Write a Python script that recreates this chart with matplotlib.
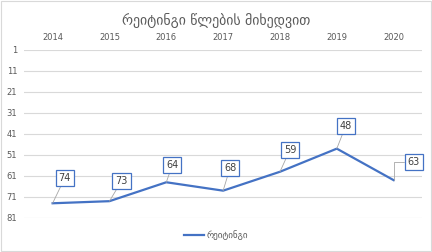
import matplotlib.pyplot as plt
from matplotlib.patches import Rectangle

years = ['2014', '2015', '2016', '2017', '2018', '2019', '2020']
rating = [74, 73, 64, 68, 59, 48, 63]
y_ticks = [1, 11, 21, 31, 41, 51, 61, 71, 81]

plt.rcParams['font.family'] = ['DejaVu Sans']

fig = plt.figure(figsize=(4.32, 2.52), dpi=100)
ax = fig.add_axes([0.056, 0.135, 0.921, 0.667])

x = list(range(len(years)))
line_color = '#4472C4'
ax.plot(x, rating, color=line_color, linewidth=1.6, label='რეიტინგი', zorder=3)

ax.set_ylim(81, 1)
ax.set_xlim(-0.5, len(years) - 0.5)
ax.set_yticks(y_ticks)
ax.set_xticks(x)
ax.set_xticklabels(years)
ax.xaxis.tick_top()
ax.tick_params(axis='both', length=0, labelsize=6, colors='#595959', pad=6)
ax.tick_params(axis='y', pad=5)
ax.grid(axis='y', color='#D9D9D9', linewidth=0.8)
for s in ax.spines.values():
    s.set_visible(False)

# data labels with leader lines
offsets = [(12, 25), (12, 20), (6, 17), (7, 23), (10, 22), (9, 23), (14, 18)]
for i, v in enumerate(rating):
    dx, dy = offsets[i]
    if i == len(rating) - 1:
        conn = 'angle,angleA=0,angleB=90,rad=0'
    else:
        conn = 'arc3'
    ax.annotate(str(v), xy=(i, v), xytext=(dx, dy), textcoords='offset pixels',
                ha='left' if i == len(rating) - 1 else 'center', va='center',
                fontsize=7, color='#404040',
                bbox=dict(boxstyle='square,pad=0.3', fc='white', ec=line_color, lw=0.9),
                arrowprops=dict(arrowstyle='-', color='#A6A6A6', lw=0.6,
                                shrinkA=0, shrinkB=0, connectionstyle=conn),
                zorder=4)

fig.text(0.5, 0.92, 'რეიტინგი წლების მიხედვით', ha='center', va='center',
         fontsize=10, color='#595959')

leg = fig.legend(loc='center', bbox_to_anchor=(0.5, 0.065), frameon=False,
                 fontsize=6.5, handlelength=2.2, handletextpad=0.3)
for t in leg.get_texts():
    t.set_color('#595959')

fig.patches.append(Rectangle((0.002, 0.003), 0.995, 0.993, transform=fig.transFigure,
                             fill=False, ec='#D9D9D9', lw=0.8))

fig.savefig('out.png', dpi=100)
